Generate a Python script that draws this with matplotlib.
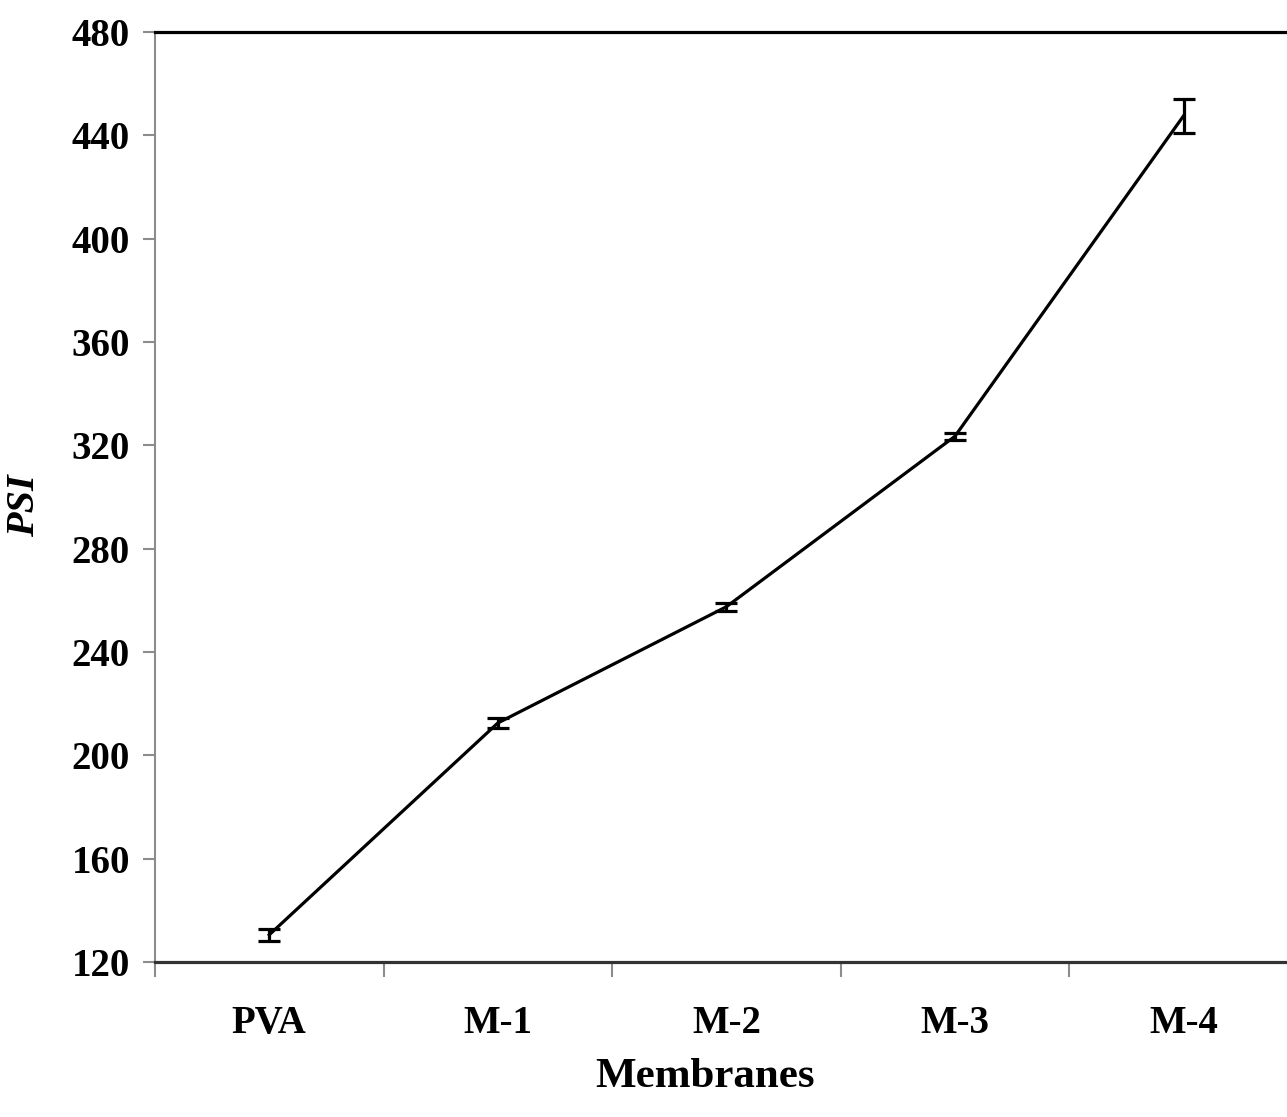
import numpy as np
import matplotlib.pyplot as plt

membranes = ['PVA', 'M-1', 'M-2', 'M-3', 'M-4']
psi = [130.5, 212.5, 257.5, 323.5, 447.5]
psi_err = [2.3, 1.8, 1.6, 1.4, 6.6]

plt.rcParams['font.family'] = 'Liberation Serif'
plt.rcParams['font.weight'] = 'bold'

fig = plt.figure(figsize=(12.87, 11.17), dpi=100)
ax = fig.add_axes([0.1204, 0.1388, 0.888, 0.8326])

x = np.arange(len(membranes))
ax.errorbar(x, psi, yerr=psi_err, color='k', linewidth=2.3,
            elinewidth=2.3, capsize=8, capthick=2.3)

ax.set_xlim(-0.5, len(membranes) - 0.5)
ax.set_ylim(120, 480)
ax.set_yticks(np.arange(120, 481, 40))

# category labels sit between the boundary ticks
ax.set_xticks(x)
ax.set_xticklabels(membranes)
ax.set_xticks(np.arange(-0.5, len(membranes)), minor=True)
ax.tick_params(axis='x', which='major', length=0, pad=31, labelsize=28)
ax.tick_params(axis='x', which='minor', length=11, width=1.5,
               color='#8c8c8c', direction='out')
ax.tick_params(axis='y', length=9, width=1.5, color='#8c8c8c',
               pad=9, labelsize=28)

ax.spines['right'].set_visible(False)
ax.spines['top'].set_color('k')
ax.spines['top'].set_linewidth(2.3)
ax.spines['bottom'].set_color('#333333')
ax.spines['bottom'].set_linewidth(2.3)
ax.spines['left'].set_color('#8c8c8c')
ax.spines['left'].set_linewidth(1.5)

ax.set_xlabel('Membranes', fontsize=31, fontweight='bold')
ax.xaxis.set_label_coords(0.481, -0.124)
ax.xaxis.label.set_va('center')
ax.set_ylabel('PSI', fontsize=29, fontweight='bold', style='italic')
ax.yaxis.set_label_coords(-0.114, 0.491)
ax.yaxis.label.set_va('center')

fig.savefig('out.png', dpi=100)
